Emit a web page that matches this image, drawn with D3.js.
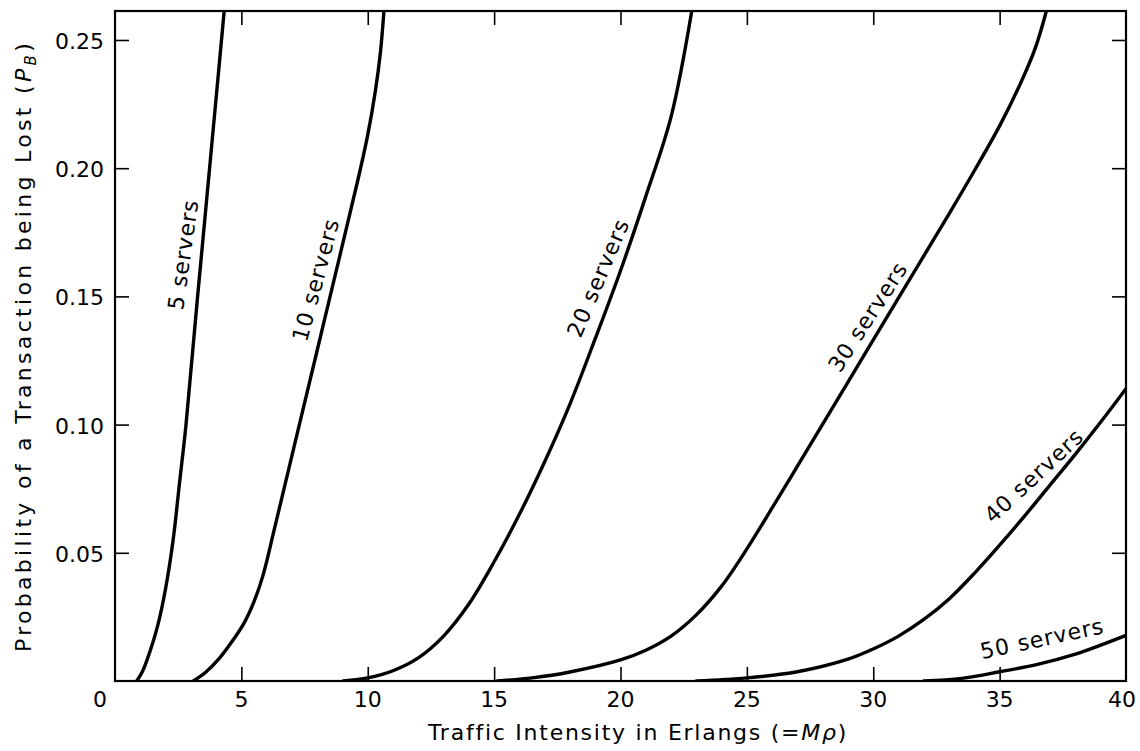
<!DOCTYPE html>
<html>
<head>
<meta charset="utf-8">
<script src="https://cdn.jsdelivr.net/npm/d3@7"></script>
<style>
  html, body { margin: 0; padding: 0; background: #fff; }
  svg { display: block; }
  text { font-family: "DejaVu Sans", "Liberation Sans", Arial, sans-serif; fill: #000; }
</style>
</head>
<body>
<svg id="chart" width="1140" height="751"></svg>
<script>
// ---- data ----
const xTickValues = [0, 5, 10, 15, 20, 25, 30, 35, 40];
const yTickValues = [0.05, 0.10, 0.15, 0.20, 0.25];
const yTickLabels = ["0.05", "0.10", "0.15", "0.20", "0.25"];
const xDomain = [0, 40];
const yDomain = [0, 0.2613];

const seriesNames = ["5 servers", "10 servers", "20 servers", "30 servers", "40 servers", "50 servers"];

const erlangs5  = [0.86, 1.10, 1.40, 1.70, 2.00, 2.30, 2.55, 2.81, 3.25, 3.78, 4.32];
const lost5     = [0, 0.0040, 0.0120, 0.0220, 0.0360, 0.0550, 0.0770, 0.1000, 0.1480, 0.2040, 0.2613];

const erlangs10 = [3.10, 3.60, 4.10, 4.60, 5.10, 5.50, 5.85, 6.30, 7.10, 8.00, 8.90, 9.60, 10.00, 10.30, 10.50, 10.64];
const lost10    = [0, 0.0035, 0.0085, 0.0150, 0.0225, 0.0310, 0.0410, 0.0590, 0.0920, 0.1290, 0.1660, 0.1950, 0.2130, 0.2300, 0.2450, 0.2613];

const erlangs20 = [9.03, 10.0, 11.0, 12.0, 13.0, 14.0, 15.0, 16.0, 17.0, 18.0, 19.0, 20.0, 21.0, 22.0, 22.82];
const lost20    = [0, 0.0012, 0.0040, 0.0090, 0.0175, 0.0300, 0.0465, 0.0650, 0.0855, 0.1080, 0.1335, 0.1600, 0.1890, 0.2200, 0.2613];

const erlangs30 = [15.12, 16.5, 18.0, 20.0, 21.0, 22.0, 23.0, 24.0, 25.0, 26.0, 27.0, 28.0, 29.0, 30.0, 31.0, 32.0, 33.0, 34.0, 35.0, 35.8, 36.4, 36.85];
const lost30    = [0, 0.0012, 0.0035, 0.0082, 0.0120, 0.0175, 0.0258, 0.0370, 0.0515, 0.0675, 0.0838, 0.1002, 0.1166, 0.1330, 0.1494, 0.1658, 0.1822, 0.1990, 0.2165, 0.2325, 0.2465, 0.2613];

const erlangs40 = [23.0, 25.0, 27.0, 29.0, 30.0, 31.0, 32.0, 33.0, 34.0, 35.0, 36.0, 37.0, 38.0, 39.0, 40.0];
const lost40    = [0, 0.0012, 0.0036, 0.0085, 0.0125, 0.0175, 0.0240, 0.0320, 0.0420, 0.0530, 0.0645, 0.0765, 0.0885, 0.1010, 0.1140];

const erlangs50 = [32.0, 33.5, 35.0, 36.5, 38.0, 39.0, 40.0];
const lost50    = [0, 0.0010, 0.0036, 0.0065, 0.0105, 0.0140, 0.0178];

// label anchor points (data units) and rotation along the curves
const labelErlangs = [2.70, 7.95, 19.12, 29.79, 36.36, 36.68];
const labelLost    = [0.1663, 0.1564, 0.1572, 0.1420, 0.0800, 0.0165];
const labelAngles  = [-82, -75, -67, -57, -43, -12];

// ---- build ----
const seriesX = [erlangs5, erlangs10, erlangs20, erlangs30, erlangs40, erlangs50];
const seriesY = [lost5, lost10, lost20, lost30, lost40, lost50];
const series = seriesNames.map((name, i) => ({
  name,
  points: seriesX[i].map((xv, j) => ({ x: xv, y: seriesY[i][j] })),
  lx: labelErlangs[i], ly: labelLost[i], angle: labelAngles[i]
}));

const svg = d3.select("#chart");
const x = d3.scaleLinear().domain(xDomain).range([115, 1126]);
const y = d3.scaleLinear().domain(yDomain).range([681, 11]);

svg.append("defs").append("clipPath").attr("id", "plotclip")
  .append("rect")
  .attr("x", x(xDomain[0])).attr("y", y(yDomain[1]))
  .attr("width", x(xDomain[1]) - x(xDomain[0]))
  .attr("height", y(yDomain[0]) - y(yDomain[1]));

// inward ticks on all four sides
const innerX = xTickValues.filter(d => d > xDomain[0] && d < xDomain[1]);
const tickLen = 14;
function styleAxis(g) {
  g.select(".domain").remove();
  g.selectAll(".tick line").attr("stroke", "#000").attr("stroke-width", 1.6);
}
svg.append("g").attr("transform", `translate(0,${y(0)})`)
  .call(d3.axisTop(x).tickValues(innerX).tickSize(tickLen).tickFormat("")).call(styleAxis);
svg.append("g").attr("transform", `translate(0,${y(yDomain[1])})`)
  .call(d3.axisBottom(x).tickValues(innerX).tickSize(tickLen).tickFormat("")).call(styleAxis);
svg.append("g").attr("transform", `translate(${x(xDomain[0])},0)`)
  .call(d3.axisRight(y).tickValues(yTickValues).tickSize(tickLen).tickFormat("")).call(styleAxis);
svg.append("g").attr("transform", `translate(${x(xDomain[1])},0)`)
  .call(d3.axisLeft(y).tickValues(yTickValues).tickSize(tickLen).tickFormat("")).call(styleAxis);

// frame
svg.append("rect")
  .attr("x", x(xDomain[0])).attr("y", y(yDomain[1]))
  .attr("width", x(xDomain[1]) - x(xDomain[0]))
  .attr("height", y(yDomain[0]) - y(yDomain[1]))
  .attr("fill", "none").attr("stroke", "#000").attr("stroke-width", 2.2);

// tick labels
svg.append("g").selectAll("text").data(xTickValues).join("text")
  .attr("x", d => x(d) + (d === 0 ? -15 : (d === 40 ? -4 : 0)))
  .attr("y", 707)
  .attr("text-anchor", "middle")
  .attr("font-size", 22)
  .text(d => String(d));

svg.append("g").selectAll("text").data(yTickValues).join("text")
  .attr("x", 104)
  .attr("y", d => y(d) + 9)
  .attr("text-anchor", "end")
  .attr("font-size", 22)
  .text((d, i) => yTickLabels[i]);

function fitWidth(sel, target) {
  const len = sel.node().getComputedTextLength();
  const n = sel.text().length;
  sel.attr("letter-spacing", ((target - len) / n).toFixed(2));
}

// axis titles
const xt = svg.append("text")
  .attr("x", 638).attr("y", 740)
  .attr("text-anchor", "middle")
  .attr("font-size", 22);
xt.append("tspan").text("Traffic Intensity in Erlangs (=");
xt.append("tspan").attr("font-style", "italic").text("M\u03C1");
xt.append("tspan").text(")");
fitWidth(xt, 420);

const yt = svg.append("text")
  .attr("transform", "translate(31,346) rotate(-90)")
  .attr("text-anchor", "middle")
  .attr("font-size", 22);
yt.append("tspan").text("Probability of a Transaction being Lost (");
yt.append("tspan").attr("font-style", "italic").text("P");
yt.append("tspan").attr("font-size", 15).attr("font-style", "italic").attr("dy", 5).text("B");
yt.append("tspan").attr("dy", -5).text(")");
fitWidth(yt, 612);

// curves
const line = d3.line().x(d => x(d.x)).y(d => y(d.y)).curve(d3.curveCatmullRom.alpha(0.5));
svg.append("g").attr("clip-path", "url(#plotclip)")
  .selectAll("path").data(series).join("path")
  .attr("d", d => line(d.points))
  .attr("fill", "none").attr("stroke", "#000")
  .attr("stroke-width", 3.4).attr("stroke-linejoin", "round").attr("stroke-linecap", "round");

// curve labels
svg.append("g").selectAll("text").data(series).join("text")
  .attr("transform", d => `translate(${x(d.lx)},${y(d.ly)}) rotate(${d.angle})`)
  .attr("text-anchor", "middle")
  .attr("dominant-baseline", "central")
  .attr("font-size", 22)
  .attr("letter-spacing", 1)
  .text(d => d.name);
</script>
</body>
</html>
